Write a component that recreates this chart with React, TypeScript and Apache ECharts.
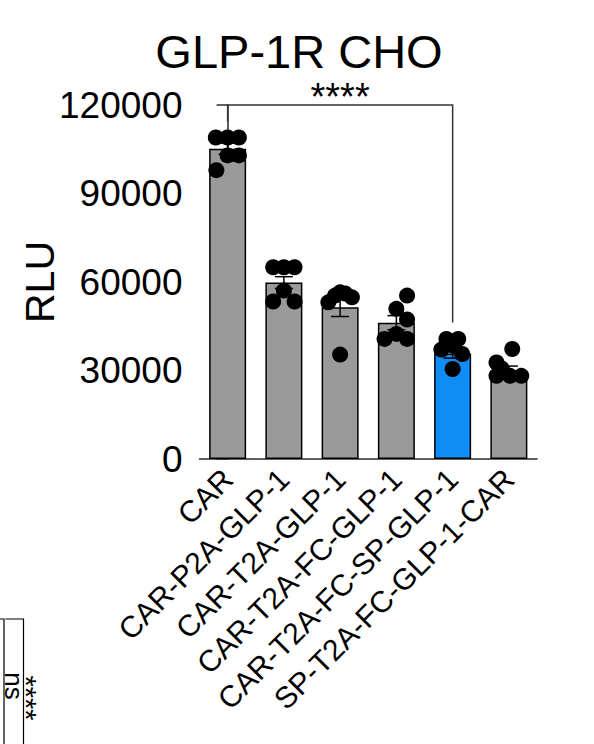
import React, { useEffect, useRef } from 'react';
import * as echarts from 'echarts';

// categories and values
const categories = [
  'CAR',
  'CAR-P2A-GLP-1',
  'CAR-T2A-GLP-1',
  'CAR-T2A-FC-GLP-1',
  'CAR-T2A-FC-SP-GLP-1',
  'SP-T2A-FC-GLP-1-CAR',
];
const barMeans = [105200, 59800, 51400, 46200, 35800, 29800];
const barSem = [1900, 2000, 3100, 2400, 1600, 1700];
const highlightIndex = 4;

// individual replicates (RLU) and their horizontal jitter in category units
const dotValues = [
  [109000, 109000, 109000, 102900, 102900, 97900],
  [65000, 65000, 65000, 57100, 53400, 53400],
  [53100, 56500, 54800, 55400, 56100, 35400],
  [55400, 50900, 47300, 40700, 42400, 40700],
  [40700, 40700, 37100, 35600, 30500, 38400],
  [37300, 32700, 28200, 28200, 28200, 30700],
];
const dotJitter = [
  [-0.21, 0, 0.2, 0, 0.2, -0.2],
  [-0.19, 0, 0.19, 0, -0.19, 0.19],
  [-0.21, 0, 0.21, -0.09, 0.09, 0],
  [0.19, 0, 0.19, -0.21, 0, 0.19],
  [-0.11, 0.1, -0.2, 0.17, 0, 0.01],
  [0.06, -0.22, -0.22, 0.02, 0.22, -0.13],
];

const yTicks = { min: 0, max: 120000, interval: 30000 };

// significance bracket: from CAR to CAR-T2A-FC-SP-GLP-1
const bracket = { from: 0, to: 4, top: 120000, leftEnd: 114300, rightEnd: 46300, label: '****' };

const FONT = '"Liberation Sans", Arial, sans-serif';
const GREY = '#9a9a9a';
const BLUE = '#0f8cf5';
const AXIS = '#2b2b2b';

const App: React.FC = () => {
  const chartRef = useRef<HTMLDivElement>(null);

  useEffect(() => {
    if (!chartRef.current) return;
    const chart = echarts.init(chartRef.current, undefined, { renderer: 'svg' });

    const scatterData: number[][] = [];
    dotValues.forEach((vals, i) => {
      vals.forEach((v, j) => scatterData.push([i + dotJitter[i][j], v]));
    });

    const option: any = {
      animation: false,
      textStyle: { fontFamily: FONT },
      grid: {
        left: 199.5,
        right: 57,
        top: 105,
        bottom: 285,
        containLabel: false,
        outerBoundsMode: 'none',
      },
      xAxis: [
        {
          type: 'category',
          data: categories,
          axisLine: { lineStyle: { color: AXIS, width: 1.5 } },
          axisTick: { alignWithLabel: true, length: 11, lineStyle: { color: AXIS, width: 1.5 } },
          axisLabel: {
            interval: 0,
            rotate: 45,
            margin: 15,
            fontSize: 30,
            color: '#000',
            fontFamily: FONT,
          },
        },
        {
          type: 'value',
          min: -0.5,
          max: 5.5,
          show: false,
        },
      ],
      yAxis: {
        type: 'value',
        min: yTicks.min,
        max: yTicks.max,
        interval: yTicks.interval,
        name: 'RLU',
        nameLocation: 'middle',
        nameRotate: 90,
        nameGap: 139,
        nameMoveOverlap: false,
        nameTextStyle: { fontSize: 41, color: '#000', fontFamily: FONT },
        axisLine: { show: true, lineStyle: { color: AXIS, width: 1.5 } },
        axisTick: { show: true, length: 11, lineStyle: { color: AXIS, width: 1.5 } },
        axisLabel: {
          fontSize: 37,
          color: '#000',
          margin: 17,
          fontFamily: FONT,
          formatter: (v: number) => String(v),
        },
        splitLine: { show: false },
      },
      graphic: [
        {
          type: 'text',
          x: 299,
          y: 51,
          style: {
            text: 'GLP-1R CHO',
            font: `47px ${FONT}`,
            fill: '#000',
            align: 'center',
            verticalAlign: 'middle',
          },
        },
        // cut-off piece of the neighbouring panel, bottom-left corner
        {
          type: 'polyline',
          shape: { points: [[0, 619], [4, 619], [4, 744]] },
          style: { stroke: '#000', lineWidth: 1.2, fill: 'none' },
        },
        {
          type: 'polyline',
          shape: { points: [[5.5, 619], [23.5, 619], [23.5, 744]] },
          style: { stroke: '#000', lineWidth: 1.2, fill: 'none' },
        },
        {
          type: 'text',
          x: 13.5,
          y: 686,
          rotation: -Math.PI / 2,
          style: {
            text: 'ns',
            font: `26px ${FONT}`,
            fill: '#000',
            align: 'center',
            verticalAlign: 'middle',
          },
        },
        {
          type: 'text',
          x: 26,
          y: 698,
          rotation: -Math.PI / 2,
          style: {
            text: '****',
            font: `29px ${FONT}`,
            fill: '#000',
            align: 'center',
            verticalAlign: 'middle',
          },
        },
      ],
      series: [
        {
          type: 'bar',
          data: barMeans.map((v, i) => ({
            value: v,
            itemStyle: { color: i === highlightIndex ? BLUE : GREY },
          })),
          barWidth: 37,
          itemStyle: { borderColor: '#000', borderWidth: 1.5 },
          z: 1,
        },
        {
          type: 'custom',
          data: barMeans.map((m, i) => [i, m, barSem[i]]),
          z: 2,
          renderItem: (params: any, api: any) => {
            const i = api.value(0);
            const m = api.value(1);
            const s = api.value(2);
            const top = api.coord([i, m + s]);
            const bot = api.coord([i, m - s]);
            const w = 9;
            const style = { stroke: '#000', lineWidth: 1.5 };
            return {
              type: 'group',
              children: [
                { type: 'line', shape: { x1: top[0], y1: top[1], x2: bot[0], y2: bot[1] }, style },
                { type: 'line', shape: { x1: top[0] - w, y1: top[1], x2: top[0] + w, y2: top[1] }, style },
                { type: 'line', shape: { x1: bot[0] - w, y1: bot[1], x2: bot[0] + w, y2: bot[1] }, style },
              ],
            };
          },
        },
        {
          type: 'scatter',
          xAxisIndex: 1,
          data: scatterData,
          symbol: 'circle',
          symbolSize: 16,
          itemStyle: { color: '#000', opacity: 1 },
          z: 3,
        },
        {
          type: 'custom',
          clip: false,
          data: [[bracket.from, bracket.to]],
          z: 4,
          renderItem: (params: any, api: any) => {
            const a = api.value(0);
            const b = api.value(1);
            const p1 = api.coord([a, bracket.leftEnd]);
            const p2 = api.coord([a, bracket.top]);
            const p3 = api.coord([b, bracket.top]);
            const p4 = api.coord([b, bracket.rightEnd]);
            return {
              type: 'group',
              children: [
                {
                  type: 'polyline',
                  shape: { points: [p1, p2, p3, p4] },
                  style: { stroke: '#333', lineWidth: 1.5, fill: 'none' },
                },
                {
                  type: 'text',
                  x: (p2[0] + p3[0]) / 2,
                  y: p2[1] - 8,
                  style: {
                    text: bracket.label,
                    font: `38px ${FONT}`,
                    fill: '#000',
                    align: 'center',
                    verticalAlign: 'middle',
                  },
                },
              ],
            };
          },
        },
      ],
    };

    chart.setOption(option);

    return () => {
      chart.dispose();
    };
  }, []);

  return (
    <div
      ref={chartRef}
      style={{ position: 'absolute', left: 0, top: 0, width: '594px', height: '744px', background: '#fff' }}
    />
  );
};

export default App;
